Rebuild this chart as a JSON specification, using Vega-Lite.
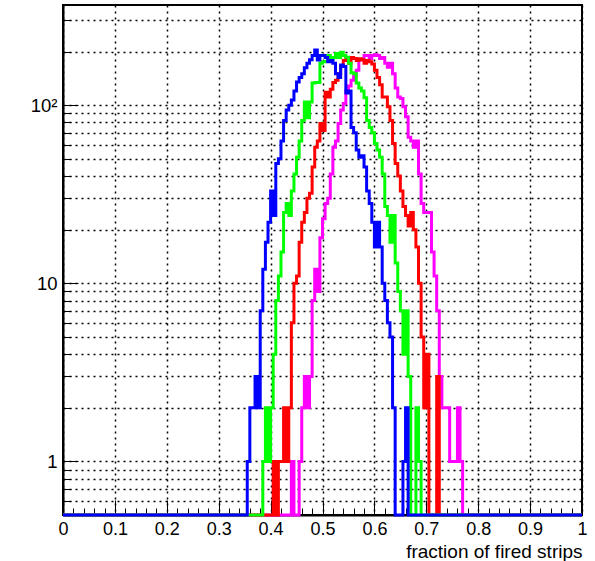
{
"$schema": "https://vega.github.io/schema/vega-lite/v6.json",
"width": 519, "height": 510,
"autosize": "none",
"padding": {"left": 63, "top": 5, "right": 13, "bottom": 46},
"background": "white",
"config": {"view": {"stroke": "black", "strokeWidth": 2}, "font": "Liberation Sans"},
"data": {"values": [
{"h":"m","x":0,"c":0},{"h":"m","x":0.44,"c":1},{"h":"m","x":0.445,"c":0},{"h":"m","x":0.455,"c":1},{"h":"m","x":0.46,"c":2},{"h":"m","x":0.465,"c":3},{"h":"m","x":0.47,"c":2},{"h":"m","x":0.475,"c":3},{"h":"m","x":0.48,"c":8},{"h":"m","x":0.485,"c":12},{"h":"m","x":0.49,"c":9},{"h":"m","x":0.495,"c":18},{"h":"m","x":0.5,"c":23},{"h":"m","x":0.505,"c":28},{"h":"m","x":0.51,"c":30},{"h":"m","x":0.515,"c":41},{"h":"m","x":0.52,"c":58},{"h":"m","x":0.525,"c":63},{"h":"m","x":0.53,"c":79},{"h":"m","x":0.535,"c":94},{"h":"m","x":0.54,"c":102},{"h":"m","x":0.545,"c":121},{"h":"m","x":0.55,"c":128},{"h":"m","x":0.555,"c":138},{"h":"m","x":0.56,"c":145},{"h":"m","x":0.565,"c":157},{"h":"m","x":0.57,"c":179},{"h":"m","x":0.575,"c":179},{"h":"m","x":0.58,"c":190},{"h":"m","x":0.585,"c":190},{"h":"m","x":0.59,"c":183},{"h":"m","x":0.595,"c":190},{"h":"m","x":0.6,"c":192},{"h":"m","x":0.605,"c":190},{"h":"m","x":0.61,"c":183},{"h":"m","x":0.615,"c":185},{"h":"m","x":0.62,"c":172},{"h":"m","x":0.625,"c":163},{"h":"m","x":0.63,"c":172},{"h":"m","x":0.635,"c":150},{"h":"m","x":0.64,"c":125},{"h":"m","x":0.645,"c":111},{"h":"m","x":0.65,"c":109},{"h":"m","x":0.655,"c":98},{"h":"m","x":0.66,"c":86},{"h":"m","x":0.665,"c":66},{"h":"m","x":0.67,"c":63},{"h":"m","x":0.675,"c":58},{"h":"m","x":0.68,"c":63},{"h":"m","x":0.685,"c":41},{"h":"m","x":0.69,"c":28},{"h":"m","x":0.695,"c":25},{"h":"m","x":0.7,"c":25},{"h":"m","x":0.705,"c":25},{"h":"m","x":0.71,"c":15},{"h":"m","x":0.715,"c":11},{"h":"m","x":0.72,"c":7},{"h":"m","x":0.725,"c":3},{"h":"m","x":0.73,"c":2},{"h":"m","x":0.735,"c":2},{"h":"m","x":0.74,"c":2},{"h":"m","x":0.745,"c":1},{"h":"m","x":0.75,"c":1},{"h":"m","x":0.755,"c":1},{"h":"m","x":0.76,"c":2},{"h":"m","x":0.765,"c":1},{"h":"m","x":0.77,"c":0},{"h":"m","x":1,"c":0},
{"h":"r","x":0,"c":0},{"h":"r","x":0.405,"c":1},{"h":"r","x":0.41,"c":0},{"h":"r","x":0.415,"c":1},{"h":"r","x":0.42,"c":1},{"h":"r","x":0.425,"c":2},{"h":"r","x":0.43,"c":1},{"h":"r","x":0.435,"c":2},{"h":"r","x":0.44,"c":6},{"h":"r","x":0.445,"c":10},{"h":"r","x":0.45,"c":11},{"h":"r","x":0.455,"c":17},{"h":"r","x":0.46,"c":22},{"h":"r","x":0.465,"c":25},{"h":"r","x":0.47,"c":30},{"h":"r","x":0.475,"c":32},{"h":"r","x":0.48,"c":45},{"h":"r","x":0.485,"c":58},{"h":"r","x":0.49,"c":63},{"h":"r","x":0.495,"c":79},{"h":"r","x":0.5,"c":72},{"h":"r","x":0.505,"c":118},{"h":"r","x":0.51,"c":111},{"h":"r","x":0.515,"c":123},{"h":"r","x":0.52,"c":134},{"h":"r","x":0.525,"c":138},{"h":"r","x":0.53,"c":150},{"h":"r","x":0.535,"c":165},{"h":"r","x":0.54,"c":178},{"h":"r","x":0.545,"c":185},{"h":"r","x":0.55,"c":172},{"h":"r","x":0.555,"c":185},{"h":"r","x":0.56,"c":183},{"h":"r","x":0.565,"c":178},{"h":"r","x":0.57,"c":182},{"h":"r","x":0.575,"c":180},{"h":"r","x":0.58,"c":172},{"h":"r","x":0.585,"c":178},{"h":"r","x":0.59,"c":175},{"h":"r","x":0.595,"c":170},{"h":"r","x":0.6,"c":157},{"h":"r","x":0.605,"c":143},{"h":"r","x":0.61,"c":130},{"h":"r","x":0.615,"c":111},{"h":"r","x":0.62,"c":111},{"h":"r","x":0.625,"c":98},{"h":"r","x":0.63,"c":82},{"h":"r","x":0.635,"c":61},{"h":"r","x":0.64,"c":47},{"h":"r","x":0.645,"c":40},{"h":"r","x":0.65,"c":33},{"h":"r","x":0.655,"c":27},{"h":"r","x":0.66,"c":24},{"h":"r","x":0.665,"c":21},{"h":"r","x":0.67,"c":25},{"h":"r","x":0.675,"c":20},{"h":"r","x":0.68,"c":16},{"h":"r","x":0.685,"c":10},{"h":"r","x":0.69,"c":5},{"h":"r","x":0.695,"c":2},{"h":"r","x":0.7,"c":4},{"h":"r","x":0.705,"c":0},{"h":"r","x":0.72,"c":3},{"h":"r","x":0.725,"c":0},{"h":"r","x":1,"c":0},
{"h":"g","x":0,"c":0},{"h":"g","x":0.385,"c":1},{"h":"g","x":0.39,"c":2},{"h":"g","x":0.395,"c":1},{"h":"g","x":0.4,"c":2},{"h":"g","x":0.405,"c":4},{"h":"g","x":0.41,"c":8},{"h":"g","x":0.415,"c":11},{"h":"g","x":0.42,"c":15},{"h":"g","x":0.425,"c":25},{"h":"g","x":0.43,"c":28},{"h":"g","x":0.435,"c":24},{"h":"g","x":0.44,"c":33},{"h":"g","x":0.445,"c":41},{"h":"g","x":0.45,"c":51},{"h":"g","x":0.455,"c":63},{"h":"g","x":0.46,"c":82},{"h":"g","x":0.465,"c":104},{"h":"g","x":0.47,"c":85},{"h":"g","x":0.475,"c":104},{"h":"g","x":0.48,"c":133},{"h":"g","x":0.485,"c":134},{"h":"g","x":0.49,"c":134},{"h":"g","x":0.495,"c":172},{"h":"g","x":0.5,"c":175},{"h":"g","x":0.505,"c":176},{"h":"g","x":0.51,"c":190},{"h":"g","x":0.515,"c":179},{"h":"g","x":0.52,"c":185},{"h":"g","x":0.525,"c":195},{"h":"g","x":0.53,"c":185},{"h":"g","x":0.535,"c":198},{"h":"g","x":0.54,"c":190},{"h":"g","x":0.545,"c":186},{"h":"g","x":0.55,"c":172},{"h":"g","x":0.555,"c":152},{"h":"g","x":0.56,"c":150},{"h":"g","x":0.565,"c":133},{"h":"g","x":0.57,"c":125},{"h":"g","x":0.575,"c":120},{"h":"g","x":0.58,"c":110},{"h":"g","x":0.585,"c":82},{"h":"g","x":0.59,"c":75},{"h":"g","x":0.595,"c":70},{"h":"g","x":0.6,"c":61},{"h":"g","x":0.605,"c":56},{"h":"g","x":0.61,"c":51},{"h":"g","x":0.615,"c":41},{"h":"g","x":0.62,"c":27},{"h":"g","x":0.625,"c":24},{"h":"g","x":0.63,"c":17},{"h":"g","x":0.635,"c":24},{"h":"g","x":0.64,"c":13},{"h":"g","x":0.645,"c":9},{"h":"g","x":0.65,"c":7},{"h":"g","x":0.655,"c":4},{"h":"g","x":0.66,"c":7},{"h":"g","x":0.665,"c":3},{"h":"g","x":0.67,"c":0},{"h":"g","x":0.68,"c":2},{"h":"g","x":0.685,"c":1},{"h":"g","x":0.69,"c":0},{"h":"g","x":1,"c":0},
{"h":"b","x":0,"c":0},{"h":"b","x":0.355,"c":1},{"h":"b","x":0.36,"c":2},{"h":"b","x":0.365,"c":2},{"h":"b","x":0.37,"c":3},{"h":"b","x":0.375,"c":2},{"h":"b","x":0.38,"c":7},{"h":"b","x":0.385,"c":12},{"h":"b","x":0.39,"c":17},{"h":"b","x":0.395,"c":22},{"h":"b","x":0.4,"c":33},{"h":"b","x":0.405,"c":24},{"h":"b","x":0.41,"c":47},{"h":"b","x":0.415,"c":50},{"h":"b","x":0.42,"c":63},{"h":"b","x":0.425,"c":82},{"h":"b","x":0.43,"c":94},{"h":"b","x":0.435,"c":100},{"h":"b","x":0.44,"c":107},{"h":"b","x":0.445,"c":120},{"h":"b","x":0.45,"c":135},{"h":"b","x":0.455,"c":143},{"h":"b","x":0.46,"c":150},{"h":"b","x":0.465,"c":162},{"h":"b","x":0.47,"c":172},{"h":"b","x":0.475,"c":180},{"h":"b","x":0.48,"c":190},{"h":"b","x":0.485,"c":204},{"h":"b","x":0.49,"c":179},{"h":"b","x":0.495,"c":190},{"h":"b","x":0.5,"c":190},{"h":"b","x":0.505,"c":185},{"h":"b","x":0.51,"c":175},{"h":"b","x":0.515,"c":178},{"h":"b","x":0.52,"c":172},{"h":"b","x":0.525,"c":150},{"h":"b","x":0.53,"c":143},{"h":"b","x":0.535,"c":168},{"h":"b","x":0.54,"c":165},{"h":"b","x":0.545,"c":117},{"h":"b","x":0.55,"c":120},{"h":"b","x":0.555,"c":75},{"h":"b","x":0.56,"c":70},{"h":"b","x":0.565,"c":56},{"h":"b","x":0.57,"c":51},{"h":"b","x":0.575,"c":52},{"h":"b","x":0.58,"c":45},{"h":"b","x":0.585,"c":33},{"h":"b","x":0.59,"c":28},{"h":"b","x":0.595,"c":22},{"h":"b","x":0.6,"c":16},{"h":"b","x":0.605,"c":22},{"h":"b","x":0.61,"c":16},{"h":"b","x":0.615,"c":10},{"h":"b","x":0.62,"c":8},{"h":"b","x":0.625,"c":6},{"h":"b","x":0.63,"c":5},{"h":"b","x":0.635,"c":2},{"h":"b","x":0.64,"c":0},{"h":"b","x":0.655,"c":1},{"h":"b","x":0.66,"c":2},{"h":"b","x":0.665,"c":0},{"h":"b","x":1,"c":0}
]},
"mark": {"type": "line", "interpolate": "step-after", "strokeWidth": 3, "invalid": "show", "clip": false, "strokeJoin": "miter"},
"encoding": {
"x": {"field": "x", "type": "quantitative",
  "scale": {"domain": [0, 1], "nice": false, "zero": false},
  "axis": {
    "values": [0,0.02,0.04,0.06,0.08,0.1,0.12,0.14,0.16,0.18,0.2,0.22,0.24,0.26,0.28,0.3,0.32,0.34,0.36,0.38,0.4,0.42,0.44,0.46,0.48,0.5,0.52,0.54,0.56,0.58,0.6,0.62,0.64,0.66,0.68,0.7,0.72,0.74,0.76,0.78,0.8,0.82,0.84,0.86,0.88,0.9,0.92,0.94,0.96,0.98,1],
    "title": "fraction of fired strips",
    "titleFontSize": 19, "titleFontWeight": "normal", "titleColor": "black",
    "titleAnchor": "end", "titleAlign": "right", "titleX": 519, "titleY": 42, "titleBaseline": "alphabetic",
    "labelExpr": "abs(datum.value*10-round(datum.value*10))<1e-6 ? format(datum.value,'.1~f') : ''",
    "labelFontSize": 18, "labelColor": "black", "labelOverlap": false, "labelFlush": false,
    "labelPadding": 20, "labelBaseline": "top",
    "tickSize": {"condition": {"test": "abs(datum.value*10-round(datum.value*10))<1e-6", "value": -15}, "value": -7},
    "tickColor": "black", "tickWidth": 1,
    "domainColor": "black", "domainWidth": 2,
    "grid": true, "gridColor": "black", "gridDash": [2, 4], "gridWidth": 1.5,
    "gridOpacity": {"condition": {"test": "abs(datum.value*10-round(datum.value*10))<1e-6", "value": 1}, "value": 0}
  }},
"y": {"field": "c", "type": "quantitative",
  "scale": {"type": "log", "domain": [0.5, 365], "nice": false, "clamp": true},
  "axis": {
    "values": [0.6,0.7,0.8,0.9,1,2,3,4,5,6,7,8,9,10,20,30,40,50,60,70,80,90,100,200,300],
    "title": null,
    "labelExpr": "datum.value==1 ? '1' : datum.value==10 ? '10' : datum.value==100 ? '10²' : ''",
    "labelFontSize": 18.5, "labelColor": "black", "labelOverlap": false, "labelFlush": false,
    "labelPadding": 21, "labelBaseline": "middle",
    "tickSize": {"condition": {"test": "datum.value==1||datum.value==10||datum.value==100", "value": -15}, "value": -8},
    "tickColor": "black", "tickWidth": 1,
    "domainColor": "black", "domainWidth": 2,
    "grid": true, "gridColor": "black", "gridDash": [2, 4], "gridWidth": 1.5, "gridOpacity": 1
  }},
"color": {"field": "h", "type": "nominal",
  "scale": {"domain": ["m","r","g","b"], "range": ["#ff00ff","#ff0000","#00ff00","#0000ff"]},
  "legend": null}
}
}
